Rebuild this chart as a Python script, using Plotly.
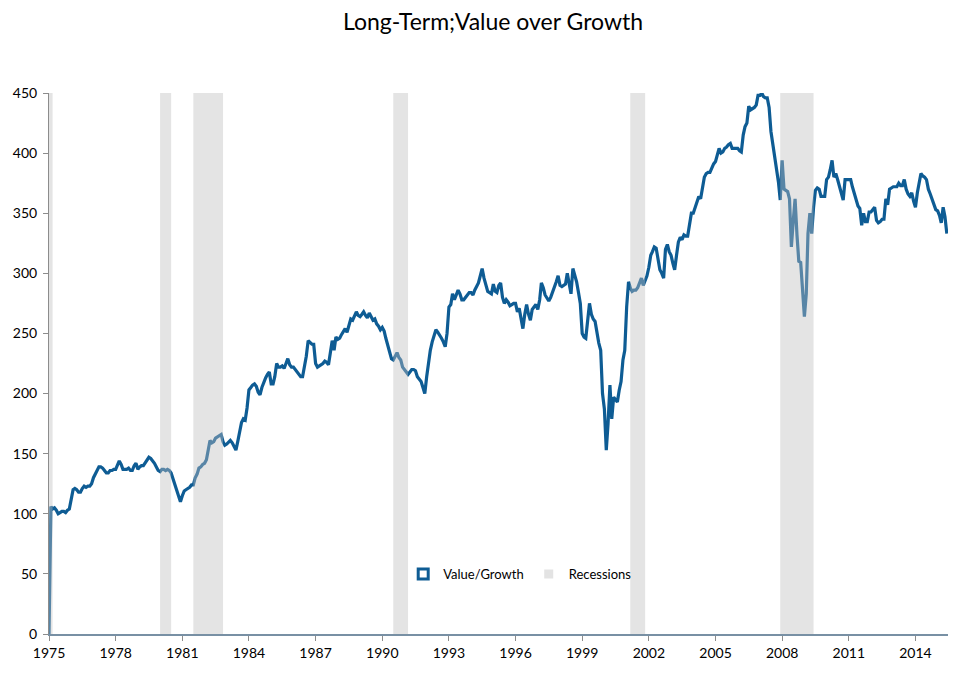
import pandas as pd
import plotly.graph_objects as go

# monthly Value/Growth readings, Jan 1975 - Jun 2015
vals_1975_1984 = [
    0, 106, 104, 105, 103, 100, 101, 102, 102, 101, 103, 104,
    112, 120, 121, 120, 118, 118, 121, 123, 122, 123, 123, 125,
    130, 133, 136, 139, 139, 138, 136, 134, 134, 136, 136, 137,
    137, 141, 144, 141, 137, 137, 137, 138, 136, 136, 140, 142,
    137, 139, 140, 140, 142, 144, 147, 146, 144, 142, 139, 136,
    135, 137, 137, 136, 137, 136, 134, 129, 124, 119, 113, 110,
    115, 119, 120, 121, 122, 124, 124, 130, 133, 138, 139, 141,
    142, 145, 152, 161, 159, 160, 163, 164, 165, 166, 160, 157,
    158, 160, 161, 159, 156, 153, 160, 170, 176, 179, 178, 188,
    203, 205, 207, 208, 206, 201, 199, 205, 210, 213, 216, 218,
]
vals_1985_1994 = [
    208, 208, 214, 225, 222, 222, 223, 221, 225, 229, 224, 222,
    222, 220, 219, 216, 214, 214, 222, 231, 244, 242, 241, 241,
    225, 222, 223, 224, 225, 227, 226, 224, 236, 244, 236, 247,
    245, 246, 249, 252, 254, 251, 256, 262, 261, 264, 268, 265,
    264, 266, 268, 265, 263, 267, 264, 261, 262, 258, 256, 253,
    255, 252, 246, 240, 235, 229, 228, 231, 234, 230, 228, 222,
    220, 218, 216, 218, 220, 220, 219, 214, 212, 210, 205, 200,
    214, 228, 236, 243, 248, 253, 251, 249, 246, 243, 239, 250,
    272, 274, 283, 278, 282, 286, 283, 278, 278, 280, 281, 284,
    284, 282, 286, 289, 292, 298, 304, 296, 290, 285, 284, 283,
]
vals_1995_2004 = [
    291, 285, 284, 290, 292, 280, 275, 278, 276, 273, 274, 275,
    275, 268, 271, 262, 254, 266, 274, 266, 261, 270, 272, 274,
    270, 278, 292, 288, 282, 280, 277, 280, 284, 288, 293, 298,
    290, 289, 290, 291, 300, 292, 283, 304, 298, 293, 284, 275,
    250, 247, 246, 262, 275, 266, 262, 260, 249, 242, 236, 200,
    187, 153, 175, 207, 179, 197, 195, 193, 203, 210, 228, 236,
    272, 293, 288, 285, 286, 286, 288, 292, 296, 290, 294, 298,
    305, 315, 318, 322, 321, 310, 303, 300, 296, 320, 324, 318,
    315, 308, 303, 315, 326, 330, 328, 332, 331, 331, 340, 350,
    350, 355, 360, 364, 362, 372, 380, 383, 384, 384, 388, 391,
]
vals_2005_2015 = [
    393, 398, 404, 400, 401, 404, 405, 407, 408, 404, 404, 404,
    404, 402, 401, 415, 422, 425, 439, 436, 437, 438, 440, 448,
    448, 450, 447, 446, 446, 438, 418, 408, 396, 385, 376, 361,
    394, 370, 369, 368, 362, 322, 343, 362, 332, 310, 309, 290,
    264, 283, 333, 350, 333, 355, 369, 371, 370, 364, 364, 364,
    378, 380, 386, 394, 380, 383, 378, 372, 365, 361, 378, 378,
    378, 378, 372, 366, 360, 356, 354, 340, 350, 343, 343, 351,
    351, 353, 355, 344, 342, 343, 345, 345, 362, 357, 370, 371,
    372, 372, 372, 375, 373, 373, 378, 370, 366, 364, 367, 360,
    355, 367, 375, 383, 381, 380, 378, 370, 366, 362, 358, 353,
    352, 348, 342, 355, 347, 333,
]

values = vals_1975_1984 + vals_1985_1994 + vals_1995_2004 + vals_2005_2015
dates = pd.date_range("1975-01-01", periods=len(values), freq="MS")

rec_start = ["1973-11-01", "1980-01-01", "1981-07-01", "1990-07-01", "2001-03-01", "2007-12-01"]
rec_end = ["1975-03-01", "1980-07-01", "1982-11-01", "1991-03-01", "2001-11-01", "2009-06-01"]

line_color = "#0e5c94"
font = "Lato, 'Open Sans', sans-serif"

fig = go.Figure()

fig.add_trace(go.Scatter(
    x=dates, y=values, mode="lines",
    line=dict(color=line_color, width=3.2),
    showlegend=False,
))

# legend entries
fig.add_trace(go.Scatter(
    x=[None], y=[None], mode="markers", name="Value/Growth",
    marker=dict(symbol="square", size=10, color="white",
                line=dict(color=line_color, width=3)),
))
fig.add_trace(go.Scatter(
    x=[None], y=[None], mode="markers", name="Recessions",
    marker=dict(symbol="square", size=9, color="#e3e3e3"),
))

# recession shading, drawn over the line
for s, e in zip(rec_start, rec_end):
    fig.add_shape(type="rect", xref="x", yref="y", x0=s, x1=e, y0=0, y1=450,
                  fillcolor="rgb(190,190,190)", opacity=0.42,
                  line=dict(width=0), layer="above")

fig.update_layout(
    width=970, height=678,
    paper_bgcolor="white", plot_bgcolor="white",
    margin=dict(l=41, r=30, t=85, b=52),
    font=dict(family=font, size=14, color="black"),
    title=dict(text="Long-Term;Value over Growth", x=0.5, xanchor="center",
               y=0.979, yanchor="middle", font=dict(size=23, color="black")),
    legend=dict(orientation="h", x=0.394, y=0.111, xanchor="left", yanchor="middle",
                bgcolor="rgba(0,0,0,0)", font=dict(size=13), itemwidth=30,
                tracegroupgap=0),
    xaxis=dict(
        range=["1975-01-01", "2015-06-20"],
        tick0="1975-01-01", dtick="M36", tickformat="%Y",
        showgrid=False, zeroline=False,
        showline=True, linecolor="#7890a4", linewidth=2,
        ticks="outside", ticklen=5, tickcolor="#8c8c8c",
        tickfont=dict(size=14),
    ),
    yaxis=dict(
        range=[0, 450], dtick=50, automargin=False,
        showgrid=False, zeroline=False,
        showline=True, linecolor="#8c8c8c", linewidth=1,
        ticks="outside", ticklen=5, tickcolor="#8c8c8c",
        ticklabelstandoff=3,
        tickfont=dict(size=14),
    ),
)

fig.write_html("out.html")
